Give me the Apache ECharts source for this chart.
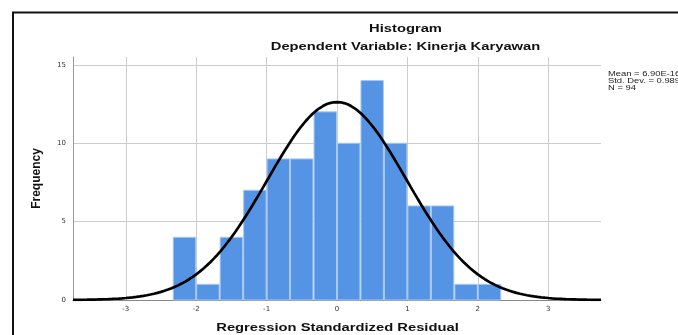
<!DOCTYPE html>
<html>
<head>
<meta charset="utf-8">
<script src="https://cdn.jsdelivr.net/npm/echarts@6/dist/echarts.min.js"></script>
<style>
    html, body { margin: 0; padding: 0; background: #fff; }
    #chart { width: 678px; height: 335px; }
</style>
</head>
<body>
<div id="chart"></div>
<script>
// histogram of regression standardized residuals
const binStarts = [-2.333, -2, -1.667, -1.333, -1, -0.667, -0.333, 0, 0.333, 0.667, 1, 1.333, 1.667, 2];
const binWidth = 0.333;
const counts = [4, 1, 4, 7, 9, 9, 12, 10, 14, 10, 6, 6, 1, 1];
const xTicks = [-3, -2, -1, 0, 1, 2, 3];
const yTicks = [0, 5, 10, 15];

// stats printed beside the plot
const mean = 6.90e-16;
const stdDev = 0.989;
const n = 94;

const FONT = '"Liberation Sans", Arial, sans-serif';
const TICK_FONT = '"DejaVu Sans", sans-serif';
const STRETCH = 1.34;   // SPSS text comes out wide

// normal curve scaled to the bin width
const curve = [];
for (let x = -3.75; x <= 3.7501; x += 0.05) {
    const z = (x - mean) / stdDev;
    const y = n * binWidth * Math.exp(-0.5 * z * z) / (stdDev * Math.sqrt(2 * Math.PI));
    curve.push([x, y]);
}

function wideText(x, y, text, size, align) {
    return {
        type: 'text', x: x, y: y, scaleX: STRETCH, silent: true,
        style: {
            text: text, fontFamily: FONT, fontSize: size, fontWeight: 'bold',
            fill: '#111', align: align || 'center', verticalAlign: 'middle',
        },
    };
}

const chart = echarts.init(document.getElementById('chart'));

chart.setOption({
    animation: false,
    grid: { left: 73, right: 77, top: 57, bottom: 35, outerBoundsMode: 'none' },
    xAxis: {
        type: 'value', min: -3.75, max: 3.75,
        axisLine: { onZero: false, lineStyle: { color: '#888', width: 1 } },
        axisTick: { show: false, customValues: xTicks },
        axisLabel: { customValues: xTicks, fontFamily: TICK_FONT, fontSize: 7, color: '#333', margin: 6 },
        splitLine: { show: true, lineStyle: { color: '#cccccc', width: 1 } },
    },
    yAxis: {
        type: 'value', min: 0, max: 15.5,
        name: 'Frequency',
        nameLocation: 'middle', nameGap: 30, nameRotate: 90,
        nameTextStyle: { fontFamily: FONT, fontSize: 12, fontWeight: 'bold', color: '#111' },
        axisLine: { show: true, onZero: false, lineStyle: { color: '#999', width: 1 } },
        axisTick: { show: false, customValues: yTicks },
        axisLabel: { customValues: yTicks, fontFamily: TICK_FONT, fontSize: 7, color: '#333', margin: 7 },
        splitLine: { show: true, lineStyle: { color: '#cccccc', width: 1 } },
    },
    graphic: [
        {
            type: 'rect', silent: true, z: 100,
            shape: { x: 13, y: 12.5, width: 800, height: 400 },
            style: { fill: 'none', stroke: '#111', lineWidth: 2 },
        },
        wideText(405.5, 28.7, 'Histogram', 11),
        wideText(405.5, 47.2, 'Dependent Variable: Kinerja Karyawan', 11),
        wideText(337.5, 328, 'Regression Standardized Residual', 11),
        {
            type: 'text', x: 608, y: 71, scaleX: STRETCH, silent: true,
            style: {
                text: 'Mean = 6.90E-16\nStd. Dev. = 0.989\nN = ' + n,
                fontFamily: FONT, fontSize: 7, lineHeight: 6.7, fill: '#222',
                align: 'left', verticalAlign: 'top',
            },
        },
    ],
    series: [
        {
            type: 'custom',
            data: counts.map((c, i) => [binStarts[i], c]),
            renderItem: (params, api) => {
                const x0 = api.value(0);
                const p0 = api.coord([x0, api.value(1)]);
                const p1 = api.coord([x0 + binWidth, 0]);
                return {
                    type: 'rect',
                    shape: { x: p0[0] + 0.5, y: p0[1], width: p1[0] - p0[0] - 1, height: p1[1] - p0[1] },
                    style: { fill: '#5594e4', stroke: '#a9c8f2', lineWidth: 1 },
                };
            },
            z: 2,
        },
        {
            type: 'line',
            data: curve,
            showSymbol: false,
            smooth: false,
            lineStyle: { color: '#000', width: 2.7 },
            z: 3,
        },
    ],
});
</script>
</body>
</html>
